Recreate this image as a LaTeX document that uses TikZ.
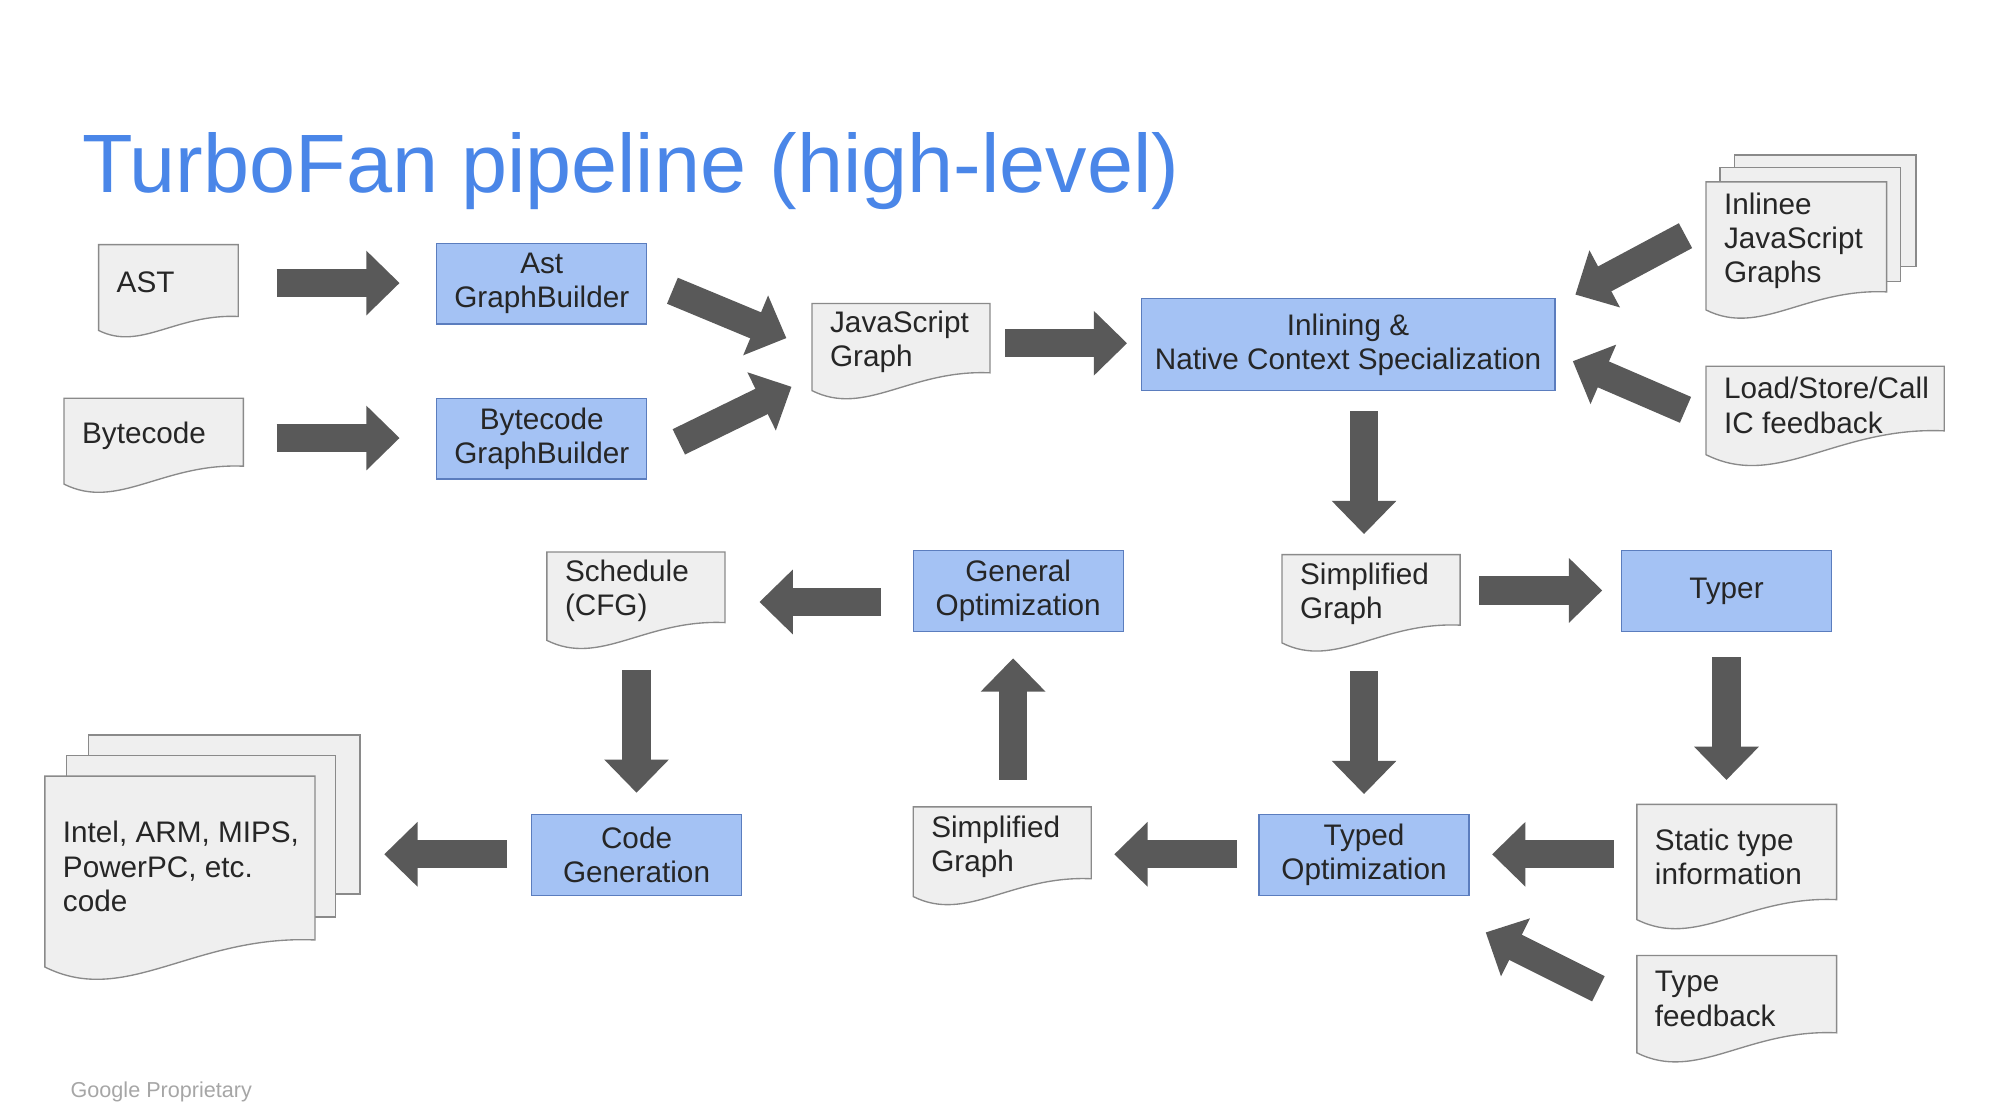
\documentclass[tikz,border=0pt]{standalone}
\usepackage{fontspec}
\setmainfont{Liberation Sans}
\usetikzlibrary{arrows.meta}
\definecolor{boxfill}{HTML}{A4C2F4}
\definecolor{boxline}{HTML}{5B7DBE}
\definecolor{docfill}{HTML}{EFEFEF}
\definecolor{docline}{HTML}{8A8A8A}
\definecolor{arr}{HTML}{595959}
\definecolor{titleblue}{HTML}{4A86E8}
\newcommand\docshape[6]{%
  \filldraw[doc] (#2,#3) -- (#4,#3) -- (#4,{#5-0.1*(#4-#2)})
    .. controls ({#2+0.55*(#4-#2)},{#5-0.12*(#4-#2)}) and ({#2+0.3*(#4-#2)},{#5+0.15*(#4-#2)}) .. (#2,#5) -- cycle;
  \node[doctext,anchor=west] (#1) at ({#2+14},{(#3+#5)/2-4}) {#6};}
\begin{document}
\begin{tikzpicture}[x=0.05cm,y=-0.05cm,
  doc/.style={fill=docfill,draw=docline,line width=1.5pt},
  doctext/.style={align=left,inner sep=0pt,font=\fontsize{33}{38}\selectfont,text=black!85},
  box/.style={fill=boxfill,draw=boxline,line width=1.5pt,align=center,inner sep=0pt,font=\fontsize{33}{38}\selectfont,text=black!85},
  fat/.style={draw=arr,line width=1.1cm,-{Triangle[width=2.45cm,length=1.3cm]}}]
\useasboundingbox (0,0) rectangle (1560,868);
\node[anchor=base west,inner sep=0pt,text=titleblue,font=\fontsize{92}{100}\selectfont] (title) at (64,150) {TurboFan pipeline (high-level)};
\node[anchor=base west,inner sep=0pt,text=black!35,font=\fontsize{24}{28}\selectfont] (foot) at (55,857) {Google Proprietary};
% boxes
\newcommand\bx[6]{\node[box,minimum width={(#4-#2)*0.05cm},minimum height={(#5-#3)*0.05cm}] (#1) at ({(#2+#4)/2},{(#3+#5)/2}) {#6};}
\bx{astgb}{341}{190}{505}{253}{Ast\\GraphBuilder}
\bx{bcgb}{341}{311}{505}{374}{Bytecode\\GraphBuilder}
\bx{inl}{891}{233}{1214}{305}{Inlining \&\\Native Context Specialization}
\bx{genopt}{713}{430}{877}{493}{General\\Optimization}
\bx{typer}{1266}{430}{1430}{493}{Typer}
\bx{codegen}{415}{636}{579}{699}{Code\\Generation}
\bx{typedopt}{983}{636}{1147}{699}{Typed\\Optimization}
% documents
\docshape{ast}{77}{191}{186}{258}{AST}
\docshape{bc}{50}{311}{190}{378}{Bytecode}
\docshape{jsg}{634}{237}{773}{305}{JavaScript\\Graph}
\filldraw[doc] (1354,121) rectangle (1496,208);
\filldraw[doc] (1343,131) rectangle (1484,220);
\docshape{inlinee}{1332}{142}{1473}{242}{Inlinee\\JavaScript\\Graphs}
\docshape{ic}{1332}{286}{1518}{355}{Load/Store/Call\\IC feedback}
\docshape{sched}{427}{431}{566}{500}{Schedule\\(CFG)}
\docshape{simp}{1001}{433}{1140}{502}{Simplified\\Graph}
\filldraw[doc] (69,574) rectangle (281,698);
\filldraw[doc] (52,590) rectangle (262,716);
\docshape{code}{35}{606}{246}{755}{Intel, ARM, MIPS,\\PowerPC, etc.\\code}
\docshape{simp2}{713}{630}{852}{700}{Simplified\\Graph}
\docshape{stat}{1278}{628}{1434}{718}{Static type\\information}
\docshape{tfb}{1278}{746}{1434}{822}{Type\\feedback}
% arrows
\draw[fat] (ast.east -| 216,0) ++(0,0) coordinate (a1s) (216,221) -- (312,221);
\coordinate (dummy) at (0,0);
\draw[fat] (216,342) -- (312,342);
\draw[fat] (525,227) -- (614,264);
\draw[fat] (530,345) -- (618,302);
\draw[fat] (785,268) -- (880,268);
\draw[fat] (1316,184) -- (1230,230);
\draw[fat] (1316,320) -- (1228,282);
\draw[fat] (1065,321) -- (1065,417);
\draw[fat] (1155,461) -- (1251,461);
\draw[fat] (1348,513) -- (1348,609);
\draw[fat] (1065,524) -- (1065,620);
\draw[fat] (1260,667) -- (1165,667);
\draw[fat] (1248,772) -- (1160,728);
\draw[fat] (966,667) -- (870,667);
\draw[fat] (791,609) -- (791,514);
\draw[fat] (688,470) -- (593,470);
\draw[fat] (497,523) -- (497,619);
\draw[fat] (396,667) -- (300,667);
\end{tikzpicture}
\end{document}
